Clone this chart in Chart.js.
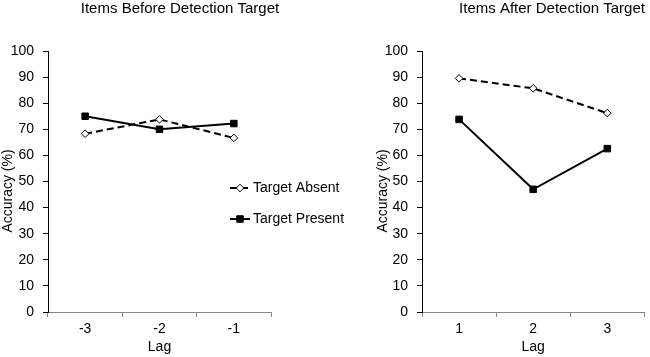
<!DOCTYPE html>
<html>
<head>
<meta charset="utf-8">
<script src="https://cdn.jsdelivr.net/npm/chart.js@4/dist/chart.umd.min.js"></script>
<style>
  html, body { margin: 0; padding: 0; background: #fff; }
  #wrap { position: relative; width: 650px; height: 357px; overflow: hidden; }
  canvas { position: absolute; top: 0; }
  #c1 { left: 0; }
  #c2 { left: 375px; }
</style>
</head>
<body>
<div id="wrap">
  <canvas id="c1" width="375" height="357"></canvas>
  <canvas id="c2" width="275" height="357"></canvas>
</div>
<script>
// ---- data ----
const titleBefore = 'Items Before Detection Target';
const titleAfter = 'Items After Detection Target';
const lagsBefore = ['-3', '-2', '-1'];
const lagsAfter = ['1', '2', '3'];
const absentBefore = [68.3, 73.8, 66.7];
const presentBefore = [75.0, 70.0, 72.2];
const absentAfter = [89.5, 85.7, 76.2];
const presentAfter = [73.8, 47.0, 62.6];
const seriesNames = ['Target Absent', 'Target Present'];
const yMin = 0, yMax = 100, yStep = 10;
const xTitle = 'Lag';
const yTitle = 'Accuracy (%)';

Chart.defaults.font.family = '"Liberation Sans", Arial, Helvetica, sans-serif';
Chart.defaults.font.size = 14;
Chart.defaults.color = '#000';

const panelTitlePlugin = {
  id: 'panelTitle',
  afterDraw(chart, args, opts) {
    const ctx = chart.ctx;
    ctx.save();
    ctx.font = '15px "Liberation Sans", Arial, sans-serif';
    ctx.fillStyle = '#000';
    ctx.textAlign = 'center';
    ctx.textBaseline = 'middle';
    ctx.fillText(opts.text, opts.x, opts.y);
    // vertical axis title
    ctx.font = '14px "Liberation Sans", Arial, sans-serif';
    ctx.translate(opts.yTitleX, opts.yTitleY);
    ctx.rotate(-Math.PI / 2);
    ctx.fillText(opts.yText, 0, 0);
    ctx.restore();
  }
};

const sideLegendPlugin = {
  id: 'sideLegend',
  afterDraw(chart, args, opts) {
    if (!opts.show) return;
    const ctx = chart.ctx;
    ctx.save();
    chart.data.datasets.forEach((ds, i) => {
      const y = opts.y + i * opts.gap;
      const x0 = opts.x, x1 = opts.x + opts.lineLen, xm = (x0 + x1) / 2;
      ctx.beginPath();
      ctx.setLineDash(ds.borderDash || []);
      ctx.lineWidth = ds.borderWidth;
      ctx.strokeStyle = ds.borderColor;
      ctx.moveTo(x0, y); ctx.lineTo(x1, y); ctx.stroke();
      ctx.setLineDash([]);
      ctx.fillStyle = ds.pointBackgroundColor;
      ctx.strokeStyle = ds.pointBorderColor;
      ctx.lineWidth = ds.pointBorderWidth;
      Chart.helpers.drawPoint(ctx, {
        pointStyle: ds.pointStyle,
        radius: ds.pointRadius,
        borderWidth: ds.pointBorderWidth,
        rotation: 0
      }, xm, y);
      ctx.font = '14px "Liberation Sans", Arial, sans-serif';
      ctx.fillStyle = '#000';
      ctx.textAlign = 'left';
      ctx.textBaseline = 'middle';
      ctx.fillText(ds.label, x1 + 3, y);
    });
    ctx.restore();
  }
};

function makeDatasets(absent, present) {
  return [
    {
      label: seriesNames[0],
      data: absent,
      borderColor: '#000',
      borderWidth: 2,
      borderDash: [7, 4],
      pointStyle: 'rectRot',
      pointRadius: 3.8,
      pointBackgroundColor: '#fff',
      pointBorderColor: '#000',
      pointBorderWidth: 1,
      tension: 0
    },
    {
      label: seriesNames[1],
      data: present,
      borderColor: '#000',
      borderWidth: 2,
      pointStyle: 'rect',
      pointRadius: 4.6,
      pointBackgroundColor: '#000',
      pointBorderColor: '#000',
      pointBorderWidth: 1,
      tension: 0
    }
  ];
}

function makeChart(canvasId, labels, absent, present, cfg) {
  return new Chart(document.getElementById(canvasId), {
    type: 'line',
    data: { labels: labels, datasets: makeDatasets(absent, present) },
    options: {
      responsive: false,
      animation: false,
      devicePixelRatio: 1,
      layout: { padding: { left: 0, right: cfg.padRight, top: 51, bottom: 0 } },
      plugins: {
        legend: { display: false },
        tooltip: { enabled: false },
        panelTitle: { text: cfg.title, x: cfg.titleX, y: 9, yText: yTitle, yTitleX: 8, yTitleY: 191 },
        sideLegend: cfg.legend
      },
      scales: {
        x: {
          type: 'category',
          offset: true,
          afterFit(scale) { scale.height = 45; },
          grid: { offset: true, drawOnChartArea: false, drawTicks: true, tickLength: 5, color: '#888' },
          border: { display: true, color: '#888', width: 1 },
          ticks: { padding: 4, color: '#000', font: { size: 14 } },
          title: { display: true, text: xTitle, color: '#000', font: { size: 14 }, padding: { top: 0, bottom: 1 } }
        },
        y: {
          min: yMin, max: yMax,
          afterFit(scale) { scale.width = cfg.yWidth; },
          grid: { drawOnChartArea: false, drawTicks: true, tickLength: 5, color: '#000' },
          border: { display: true, color: '#000', width: 1 },
          ticks: { stepSize: yStep, padding: 9, color: '#000', font: { size: 14 } },
          title: { display: false }
        }
      }
    },
    plugins: [panelTitlePlugin, sideLegendPlugin]
  });
}

makeChart('c1', lagsBefore, absentBefore, presentBefore, {
  padRight: 104, yWidth: 48, title: titleBefore, titleX: 180,
  legend: { show: true, x: 230, y: 188, gap: 31, lineLen: 20 }
});
makeChart('c2', lagsAfter, absentAfter, presentAfter, {
  padRight: 5, yWidth: 47, title: titleAfter, titleX: 177,
  legend: { show: false }
});
</script>
</body>
</html>
